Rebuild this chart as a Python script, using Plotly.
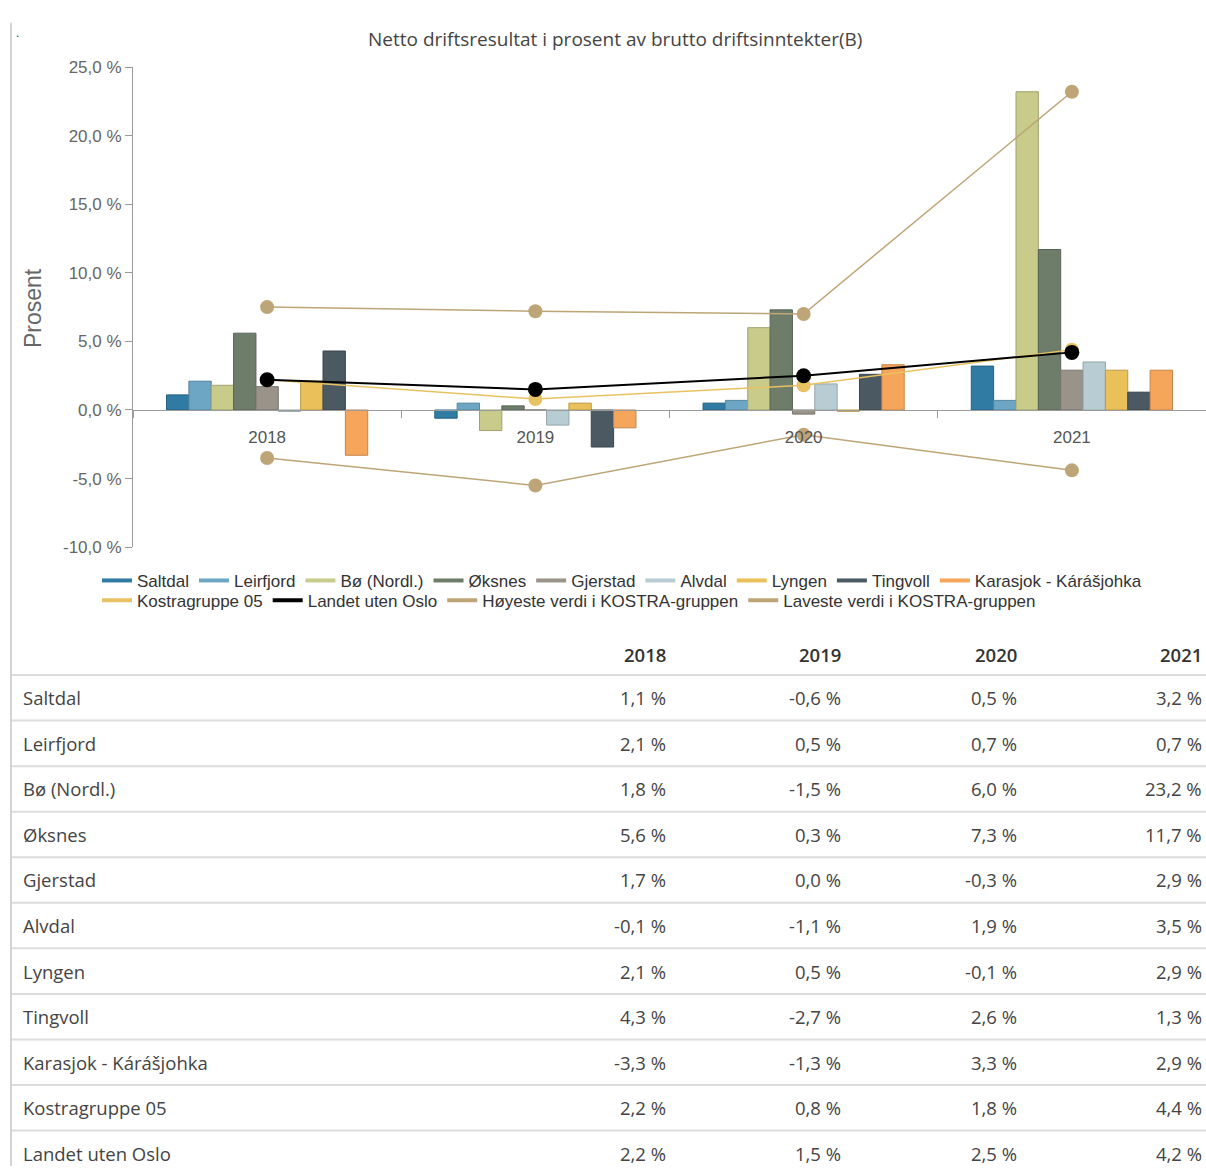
import plotly.graph_objects as go

# ---------------- data ----------------
years = ["2018", "2019", "2020", "2021"]

bar_names = ["Saltdal", "Leirfjord", "Bø (Nordl.)", "Øksnes", "Gjerstad",
             "Alvdal", "Lyngen", "Tingvoll", "Karasjok - Kárášjohka"]
saltdal = [1.1, -0.6, 0.5, 3.2]
leirfjord = [2.1, 0.5, 0.7, 0.7]
bo_nordl = [1.8, -1.5, 6.0, 23.2]
oksnes = [5.6, 0.3, 7.3, 11.7]
gjerstad = [1.7, 0.0, -0.3, 2.9]
alvdal = [-0.1, -1.1, 1.9, 3.5]
lyngen = [2.1, 0.5, -0.1, 2.9]
tingvoll = [4.3, -2.7, 2.6, 1.3]
karasjok = [-3.3, -1.3, 3.3, 2.9]

line_names = ["Kostragruppe 05", "Landet uten Oslo",
              "Høyeste verdi i KOSTRA-gruppen", "Laveste verdi i KOSTRA-gruppen"]
kostragruppe = [2.2, 0.8, 1.8, 4.4]
landet_uten_oslo = [2.2, 1.5, 2.5, 4.2]
hoyeste = [7.5, 7.2, 7.0, 23.2]
laveste = [-3.5, -5.5, -1.8, -4.4]

y_ticks = [-10, -5, 0, 5, 10, 15, 20, 25]

bar_values = [saltdal, leirfjord, bo_nordl, oksnes, gjerstad, alvdal, lyngen, tingvoll, karasjok]
line_values = [kostragruppe, landet_uten_oslo, hoyeste, laveste]

title_text = "Netto driftsresultat i prosent av brutto driftsinntekter(B)"
y_title = "Prosent"

# ---------------- styles ----------------
bar_colors = ["#2F7BA3", "#6CA6C4", "#C9CB8A", "#6E7D69", "#999389",
              "#B8CDD3", "#EAC05B", "#4A5962", "#F5A65B"]
line_colors = ["#E8C262", "#000000", "#BDA577", "#BDA577"]
line_widths = [1.5, 2, 1.5, 1.5]
marker_sizes = [14, 15, 14, 14]

W, H = 1206, 1176


def darker(hexc, f=0.8):
    h = hexc.lstrip("#")
    r, g, b = (int(h[i:i + 2], 16) for i in (0, 2, 4))
    return "rgb(%d,%d,%d)" % (r * f, g * f, b * f)


def px(x):
    return x / W


def py(y):
    return 1 - y / H


def fmt(v):
    s = "%.1f" % v
    if s == "-0.0":
        s = "0.0"
    return s.replace(".", ",") + " %"


fig = go.Figure()

for name, vals, col in zip(bar_names, bar_values, bar_colors):
    fig.add_trace(go.Bar(x=years, y=vals, name=name, showlegend=False,
                         marker=dict(color=col, line=dict(color=darker(col), width=1))))

for name, vals, col, lw, ms in zip(line_names, line_values, line_colors, line_widths, marker_sizes):
    fig.add_trace(go.Scatter(x=years, y=vals, name=name, mode="lines+markers", showlegend=False,
                             line=dict(color=col, width=lw),
                             marker=dict(color=col, size=ms)))

# legend entries (line symbols only)
for name, col in zip(bar_names, bar_colors):
    fig.add_trace(go.Scatter(x=[None], y=[None], name=name, mode="lines",
                             line=dict(color=col, width=4), legend="legend"))
for name, col in zip(line_names, line_colors):
    fig.add_trace(go.Scatter(x=[None], y=[None], name=name, mode="lines",
                             line=dict(color=col, width=4), legend="legend2"))

legend_font = dict(family="Liberation Sans, Arial", size=17, color="#333333")

annotations = [
    dict(text=title_text, x=px(615), y=py(30), xref="paper", yref="paper",
         showarrow=False, xanchor="center", yanchor="middle",
         font=dict(family="Open Sans", size=19, color="#444444")),
    dict(text=y_title, x=px(33), y=py(304), xref="paper", yref="paper", textangle=-90,
         showarrow=False, xanchor="center", yanchor="middle",
         font=dict(family="Liberation Sans, Arial", size=23, color="#666666")),
    dict(text=".", x=px(17), y=py(24), xref="paper", yref="paper",
         showarrow=False, xanchor="center", yanchor="middle",
         font=dict(size=12, color="#333333")),
]

shapes = [
    dict(type="line", xref="paper", yref="paper", x0=px(11), x1=px(11), y0=py(14), y1=0,
         line=dict(color="#D4D4D4", width=2)),
]

# ---------------- table ----------------
col_right = [668, 843, 1019, 1204]
header_y = 656
row0_y = 700
pitch = 46.3
line0_y = 677

table_font = dict(family="Open Sans", size=18.5, color="#444444")
for yr, xr in zip(years, col_right):
    annotations.append(dict(text=yr, x=px(xr), y=py(header_y), xref="paper", yref="paper",
                            showarrow=False, xanchor="right", yanchor="middle",
                            font=dict(family="Open Sans", size=18.5, color="#333333", weight=600)))

table_names = bar_names + line_names[:2]
table_values = bar_values + line_values[:2]
for i, (name, vals) in enumerate(zip(table_names, table_values)):
    yc = row0_y + i * pitch
    annotations.append(dict(text=name, x=px(21), y=py(yc), xref="paper", yref="paper",
                            showarrow=False, xanchor="left", yanchor="middle", font=table_font))
    for v, xr in zip(vals, col_right):
        annotations.append(dict(text=fmt(v), x=px(xr), y=py(yc), xref="paper", yref="paper",
                                showarrow=False, xanchor="right", yanchor="middle", font=table_font))

for i in range(len(table_names)):
    yl = line0_y + i * pitch
    shapes.append(dict(type="line", xref="paper", yref="paper", x0=px(12), x1=1,
                       y0=py(yl), y1=py(yl), line=dict(color="#DCDCDC", width=2)))

fig.update_layout(
    width=W, height=H,
    margin=dict(l=0, r=0, t=0, b=0),
    paper_bgcolor="white", plot_bgcolor="white",
    separators=", ",
    barmode="group", bargap=0.25, bargroupgap=0,
    font=dict(family="Liberation Sans, Arial", color="#555555"),
    xaxis=dict(type="category", categoryorder="array", categoryarray=years,
               domain=[px(133), 1], range=[-0.5, 3.5],
               anchor="free", position=py(408),
               showline=True, linecolor="#9A9A9A", linewidth=1,
               ticks="outside", tickson="boundaries", ticklen=7, tickcolor="#9A9A9A",
               ticklabelstandoff=11,
               showgrid=False, zeroline=False,
               tickfont=dict(family="Liberation Sans, Arial", size=17, color="#555555")),
    yaxis=dict(domain=[py(547), py(59)], range=[-10, 25],
               tickmode="array", tickvals=y_ticks, ticktext=[fmt(t) for t in y_ticks],
               showline=True, linecolor="#9A9A9A", linewidth=1,
               ticks="outside", ticklen=7, tickcolor="#9A9A9A",
               showgrid=False, zeroline=False,
               tickfont=dict(family="Liberation Sans, Arial", size=17, color="#666666")),
    legend=dict(orientation="h", x=px(97), y=py(563), xanchor="left", yanchor="top",
                font=legend_font, bgcolor="rgba(0,0,0,0)", itemwidth=30,
                tracegroupgap=0),
    legend2=dict(orientation="h", x=px(97), y=py(583), xanchor="left", yanchor="top",
                 font=legend_font, bgcolor="rgba(0,0,0,0)", itemwidth=30,
                 tracegroupgap=0),
    annotations=annotations,
    shapes=shapes,
)

fig.write_html("out.html", config={"displayModeBar": False},
               post_script="document.body.style.margin='0';document.body.style.overflow='hidden';")
